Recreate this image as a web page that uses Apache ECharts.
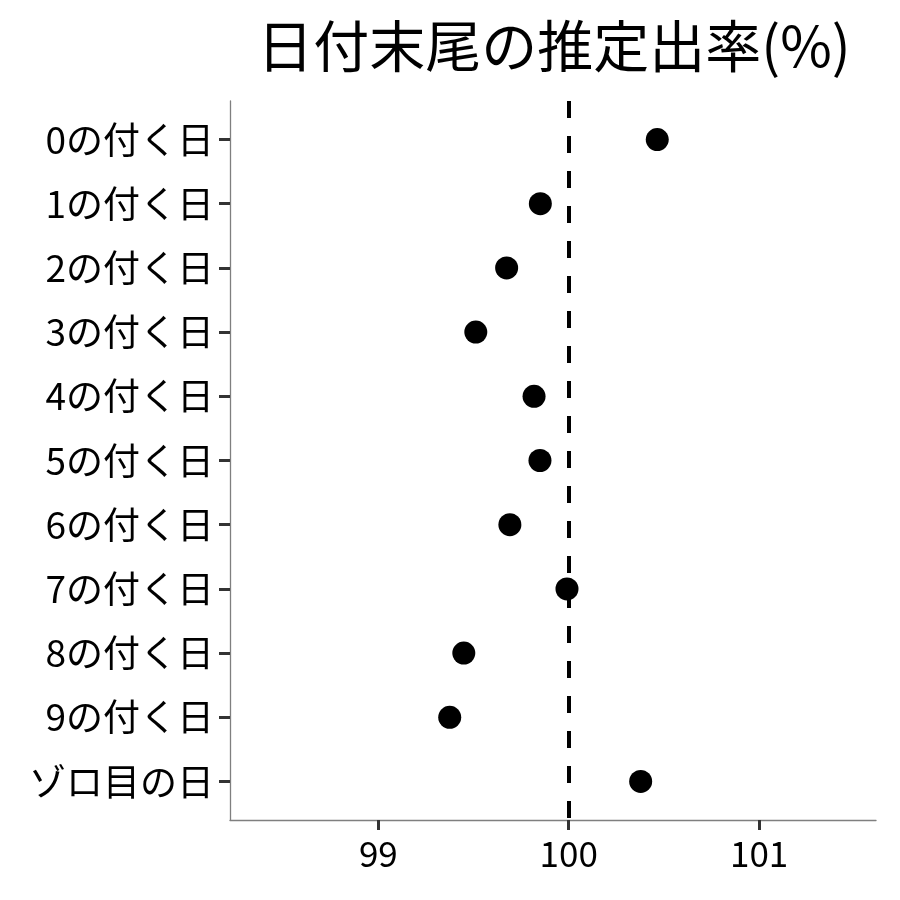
<!DOCTYPE html>
<html>
<head>
<meta charset="utf-8">
<script src="https://cdn.jsdelivr.net/npm/echarts@6/dist/echarts.min.js"></script>
<style>
html,body{margin:0;padding:0;background:#fff;}
#chart{width:900px;height:900px;}
</style>
</head>
<body>
<div id="chart"></div>
<script>
const titleText = '日付末尾の推定出率(%)';
const categories = ['0の付く日','1の付く日','2の付く日','3の付く日','4の付く日','5の付く日','6の付く日','7の付く日','8の付く日','9の付く日','ゾロ目の日'];
const values = [100.465, 99.851, 99.674, 99.512, 99.818, 99.849, 99.691, 99.991, 99.449, 99.375, 100.378];
const xTicks = [99, 100, 101];
const refValue = 100;

const FONT = '"Noto Sans CJK JP", "Noto Sans", sans-serif';
const chart = echarts.init(document.getElementById('chart'), null, {renderer: 'canvas'});
const catIdx = categories.map((c, i) => i);

chart.setOption({
  backgroundColor: '#ffffff',
  animation: false,
  graphic: [{
    type: 'text', x: 554, y: 46,
    style: { text: titleText, fontSize: 56, fontFamily: FONT, fill: '#000', textAlign: 'center', textVerticalAlign: 'middle' }
  }],
  grid: { left: 230, right: 24, top: 101, bottom: 80, containLabel: false, outerBoundsMode: 'none' },
  xAxis: {
    type: 'value', min: 98.221, max: 101.614,
    axisLine: { show: true, onZero: false, lineStyle: { color: '#7f7f7f', width: 1.3 } },
    axisTick: { show: true, customValues: xTicks, length: 10, lineStyle: { color: '#333333', width: 3 } },
    axisLabel: { customValues: xTicks, margin: 16, fontSize: 35, fontFamily: FONT, color: '#000' },
    splitLine: { show: false }
  },
  yAxis: {
    type: 'value', min: -0.6, max: 10.6, inverse: true,
    axisLine: { show: true, onZero: false, lineStyle: { color: '#7f7f7f', width: 1.3 } },
    axisTick: { show: true, customValues: catIdx, length: 11, lineStyle: { color: '#333333', width: 3 } },
    axisLabel: { customValues: catIdx, margin: 16, fontSize: 37, fontFamily: FONT, color: '#000',
      formatter: v => categories[Math.round(v)] },
    splitLine: { show: false }
  },
  series: [{
    type: 'scatter',
    symbol: 'circle', symbolSize: 23,
    itemStyle: { color: '#000', opacity: 1 },
    data: values.map((v, i) => [v, i]),
    z: 3,
    markLine: {
      silent: true, symbol: 'none', label: { show: false },
      lineStyle: { color: '#000', width: 4, type: [17, 18], opacity: 1 },
      data: [{ xAxis: refValue }],
      z: 2
    }
  }]
});
</script>
</body>
</html>
